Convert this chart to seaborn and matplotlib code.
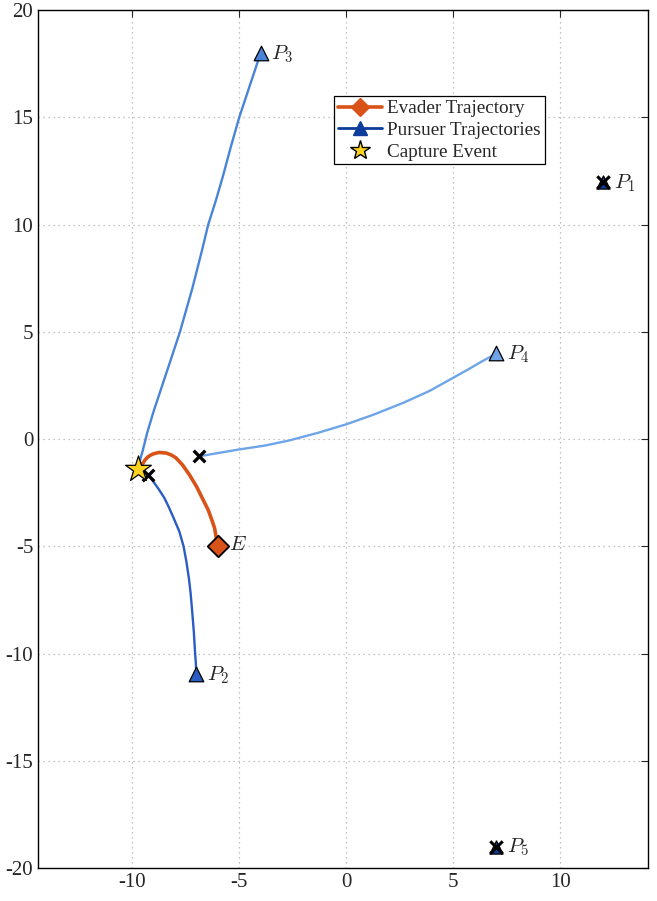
import numpy as np
import pandas as pd
import seaborn as sns
import matplotlib.pyplot as plt
from matplotlib.lines import Line2D

# trajectories
evader_x = [-6.0, -6.09, -6.15, -6.26, -6.45, -6.73, -7.0, -7.34, -7.65, -7.96, -8.15,
            -8.4, -8.74, -9.0, -9.15, -9.28, -9.4, -9.5, -9.62, -9.75]
evader_y = [-5.0, -4.5, -4.15, -3.82, -3.3, -2.74, -2.2, -1.64, -1.2, -0.87, -0.75,
            -0.65, -0.62, -0.68, -0.75, -0.84, -0.97, -1.12, -1.25, -1.4]

p2_x = [-7.0, -7.03, -7.06, -7.12, -7.2, -7.27, -7.35, -7.47, -7.6, -7.8, -8.1, -8.3,
        -8.5, -8.75, -8.97, -9.12, -9.25]
p2_y = [-10.95, -10.4, -10.0, -9.0, -8.0, -7.2, -6.5, -5.7, -5.0, -4.3, -3.6, -3.15,
        -2.74, -2.35, -2.04, -1.82, -1.65]

p3_x = [-4.0, -4.5, -5.0, -5.4, -5.75, -6.1, -6.45, -6.75, -7.2, -7.77, -8.2, -8.58,
        -9.0, -9.3, -9.5, -9.75]
p3_y = [18.0, 16.5, 15.0, 13.6, 12.3, 11.1, 10.0, 8.76, 7.0, 5.0, 3.7, 2.56,
        1.3, 0.3, -0.5, -1.4]

p4_x = [7.0, 6.7, 6.37, 5.7, 5.0, 3.9, 2.66, 1.3, 0.0, -1.3, -2.66, -3.8, -5.0, -6.0, -6.87]
p4_y = [4.0, 3.82, 3.64, 3.25, 2.86, 2.25, 1.69, 1.15, 0.69, 0.3, -0.06, -0.3, -0.48, -0.65, -0.8]

# pursuers that never moved
idle_x = [12, 7]
idle_y = [12, -19]
idle_names = ["$P_1$", "$P_5$"]

capture = (-9.75, -1.4)

orange = "#d95319"
c_p2 = "#2a5cc4"
c_p3 = "#4a84d8"
c_p4 = "#6ea5e8"
navy = "#0c3c9c"

sns.set_style("white")
plt.rcParams['font.family'] = ['Liberation Serif', 'DejaVu Serif']
plt.rcParams['mathtext.fontset'] = 'cm'
plt.rcParams['axes.unicode_minus'] = False

fig = plt.figure(figsize=(6.57, 9.01), dpi=100)
ax = fig.add_axes([0.058, 0.0366, 0.928, 0.952])

paths = [(p2_x, p2_y, c_p2), (p3_x, p3_y, c_p3), (p4_x, p4_y, c_p4)]
for px, py, col in paths:
    df = pd.DataFrame({"x": px, "y": py})
    sns.lineplot(data=df, x="x", y="y", sort=False, color=col, lw=1.7, ax=ax, zorder=3)

ev = pd.DataFrame({"x": evader_x, "y": evader_y})
sns.lineplot(data=ev, x="x", y="y", sort=False, color=orange, lw=2.6, ax=ax, zorder=4)

# start markers
for px, py, col in paths:
    sns.scatterplot(x=[px[0]], y=[py[0]], marker="^", s=110, color=col,
                    edgecolor="black", linewidth=0.9, ax=ax, zorder=5)
sns.scatterplot(x=idle_x, y=idle_y, marker="^", s=90, color=navy,
                edgecolor="black", linewidth=0.9, ax=ax, zorder=5)
sns.scatterplot(x=idle_x, y=idle_y, marker="x", s=80, color="black",
                linewidth=2.2, ax=ax, zorder=6)

# end markers of pursuers that did not catch
sns.scatterplot(x=[p2_x[-1], p4_x[-1]], y=[p2_y[-1], p4_y[-1]], marker="x", s=70,
                color="black", linewidth=2.4, ax=ax, zorder=6)

sns.scatterplot(x=[evader_x[0]], y=[evader_y[0]], marker="D", s=120, color=orange,
                edgecolor="black", linewidth=1.3, ax=ax, zorder=6)
sns.scatterplot(x=[capture[0]], y=[capture[1]], marker="*", s=380, color="#ffd21f",
                edgecolor="black", linewidth=0.9, ax=ax, zorder=7)

# labels
lbl = dict(fontsize=15, va="center", ha="left")
ax.text(p2_x[0] + 0.5, p2_y[0] - 0.05, "$P_2$", **lbl)
ax.text(p3_x[0] + 0.5, p3_y[0] - 0.05, "$P_3$", **lbl)
ax.text(p4_x[0] + 0.5, p4_y[0] - 0.05, "$P_4$", **lbl)
for x, y, n in zip(idle_x, idle_y, idle_names):
    ax.text(x + 0.5, y - 0.05, n, **lbl)
ax.text(evader_x[0] + 0.5, evader_y[0] + 0.05, "$E$", **lbl)

ax.set_xlim(-14.4, 14.1)
ax.set_ylim(-20, 20)
ax.set_xticks([-10, -5, 0, 5, 10])
ax.set_yticks(np.arange(-20, 21, 5))
ax.set_xlabel("")
ax.set_ylabel("")
ax.tick_params(direction="in", top=True, right=True, labelsize=15, length=5, width=0.8)
ax.grid(True, linestyle=(0, (1, 3)), color="#b0b0b0", linewidth=0.9)
for s in ax.spines.values():
    s.set_color("black")
    s.set_linewidth(1.0)

handles = [
    Line2D([], [], color=orange, lw=2.6, marker="D", markersize=9, markerfacecolor=orange, markeredgecolor=orange),
    Line2D([], [], color=navy, lw=2.0, marker="^", markersize=10, markerfacecolor=navy, markeredgecolor=navy),
    Line2D([], [], color="none", marker="*", markersize=15, markerfacecolor="#ffd21f", markeredgecolor="black"),
]
leg = ax.legend(handles, ["Evader Trajectory", "Pursuer Trajectories", "Capture Event"],
                loc="upper left", bbox_to_anchor=(0.485, 0.9), fontsize=13.8, frameon=True,
                fancybox=False, edgecolor="black", framealpha=1, borderpad=0.2,
                labelspacing=0.22, handlelength=2.3, handletextpad=0.3, borderaxespad=0)
leg.get_frame().set_linewidth(0.9)

fig.savefig("out.png", dpi=100)
